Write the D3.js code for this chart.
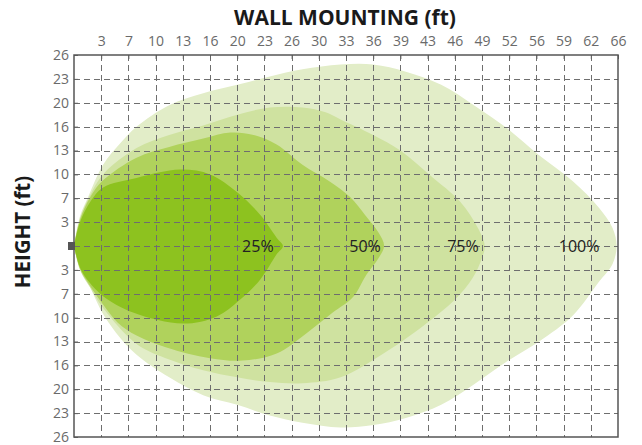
<!DOCTYPE html>
<html><head><meta charset="utf-8">
<script src="https://cdn.jsdelivr.net/npm/d3@7/dist/d3.min.js"></script>
<style>
html,body{margin:0;padding:0;background:#fff;}
svg{display:block;}
</style></head>
<body>
<svg id="chart" width="642" height="445"></svg>
<script>
// distances in metres (grid units); tick labels are the feet equivalents
const xTickValues = d3.range(1, 21);
const xTickLabels = ["3","7","10","13","16","20","23","26","30","33","36","39","43","46","49","52","56","59","62","66"];
const yTickValues = [-8,-7,-6,-5,-4,-3,-2,-1,1,2,3,4,5,6,7,8];
const yTickLabels = ["3","7","10","13","16","20","23","26"];

const seriesNames = ["100%","75%","50%","25%"];
const seriesLabelX = [18.57, 14.3, 10.7, 6.76];
const outline100 = [[0,0],[0.22,1.25],[0.5,2.0],[1.07,3.4],[1.7,4.3],[2.3,5.0],[3.5,5.9],[4.75,6.4],[6.0,6.75],[7.2,7.1],[8.4,7.4],[9.8,7.6],[11.0,7.6],[12.2,7.3],[13.5,6.75],[14.7,5.9],[15.9,4.95],[17.1,3.8],[18.35,2.7],[19.3,1.6],[19.8,0.75],[19.95,0],[19.8,-0.75],[19.3,-1.5],[18.35,-2.9],[17.1,-4.0],[15.9,-4.85],[14.7,-5.8],[13.5,-6.65],[12.2,-7.2],[11.0,-7.5],[9.8,-7.6],[8.4,-7.4],[7.2,-7.1],[6.0,-6.65],[4.75,-6.25],[3.5,-5.5],[2.3,-4.55],[1.7,-3.85],[1.07,-2.85],[0.5,-1.5],[0.22,-0.9],[0,0]];
const outline75 = [[0,0],[0.22,1.15],[0.6,2.15],[1.07,3.0],[2.3,4.1],[3.5,4.65],[4.75,5.05],[6.0,5.5],[7.2,5.8],[8.4,5.8],[9.25,5.6],[9.8,5.3],[11.0,4.65],[12.0,4.0],[13.1,2.95],[14.2,1.85],[14.85,0.75],[15.1,0],[15.0,-0.5],[14.65,-1.35],[14.0,-2.25],[13.0,-3.2],[11.45,-4.45],[9.8,-5.5],[8.4,-5.75],[7.2,-5.7],[6.0,-5.5],[4.75,-5.2],[3.5,-4.75],[2.3,-4.1],[1.07,-2.6],[0.6,-1.75],[0.22,-1.0],[0,0]];
const outline50 = [[0,0],[0.22,1.1],[0.6,2.05],[1.07,2.75],[2.3,3.7],[3.5,4.15],[4.75,4.5],[5.75,4.75],[6.6,4.65],[7.45,4.25],[8.4,3.4],[9.4,2.7],[10.15,2.05],[10.7,1.3],[11.2,0.55],[11.4,0],[11.2,-0.5],[10.75,-1.2],[10.25,-2.15],[9.5,-2.8],[8.55,-3.65],[7.45,-4.5],[6.2,-4.8],[5.0,-4.7],[3.4,-4.25],[2.3,-3.75],[1.6,-3.2],[1.07,-2.45],[0.55,-1.6],[0.22,-0.95],[0,0]];
const outline25 = [[0,0],[0.22,1.0],[0.6,1.85],[1.07,2.45],[2.3,2.85],[3.9,3.2],[5.0,3.0],[6.0,2.25],[6.85,1.3],[7.45,0.35],[7.68,0],[7.45,-0.35],[6.85,-1.4],[6.1,-2.25],[5.25,-2.95],[4.0,-3.25],[2.2,-2.8],[1.07,-2.1],[0.55,-1.5],[0.22,-0.9],[0,0]];
const outlines = [outline100, outline75, outline50, outline25];
const fills = ["#e2edc8", "#cfe2a0", "#b0d25c", "#8dc21f"];

const svg = d3.select("#chart");
const pLeft = 74, pRight = 618, pTop = 55, pBottom = 437;
const x = d3.scaleLinear().domain([0, 20]).range([pLeft, pRight]);
const y = d3.scaleLinear().domain([-8, 8]).range([pBottom, pTop]);

svg.append("defs").append("clipPath").attr("id","plotclip")
  .append("rect").attr("x",pLeft).attr("y",pTop).attr("width",pRight-pLeft).attr("height",pBottom-pTop);

const line = d3.line().x(d => x(d[0])).y(d => y(d[1])).curve(d3.curveCatmullRom.alpha(0.5));
const shapes = svg.append("g").attr("clip-path","url(#plotclip)");
outlines.forEach((o, i) => {
  shapes.append("path").attr("d", line(o) + "Z").attr("fill", fills[i]);
});

// grid
const grid = svg.append("g").attr("stroke","#6e6e6e").attr("stroke-width",1).attr("stroke-dasharray","6,4");
d3.range(1, 20).forEach(v => {
  grid.append("line").attr("x1", Math.round(x(v))+0.5).attr("x2", Math.round(x(v))+0.5).attr("y1", pTop).attr("y2", pBottom);
});
d3.range(-7, 8).forEach(v => {
  grid.append("line").attr("y1", Math.round(y(v))+0.5).attr("y2", Math.round(y(v))+0.5).attr("x1", pLeft).attr("x2", pRight);
});

// axes
const xAxis = d3.axisTop(x).tickValues(xTickValues).tickFormat(d => xTickLabels[d-1]).tickSizeInner(-4).tickSizeOuter(0).tickPadding(9);
const gx = svg.append("g").attr("transform", `translate(0,${pTop})`).call(xAxis);
const yAxis = d3.axisLeft(y).tickValues(yTickValues).tickFormat(d => yTickLabels[Math.abs(d)-1]).tickSizeInner(-4).tickSizeOuter(0).tickPadding(5);
const gy = svg.append("g").attr("transform", `translate(${pLeft},0)`).call(yAxis);
[gx, gy].forEach(g => {
  g.select(".domain").remove();
  g.selectAll(".tick line").attr("stroke","#666");
  g.selectAll(".tick text").attr("fill","#6a6a6a").style("font-family","'Open Sans', sans-serif").style("font-size","14px");
});

// frame
svg.append("rect").attr("x",pLeft).attr("y",pTop).attr("width",pRight-pLeft).attr("height",pBottom-pTop)
  .attr("fill","none").attr("stroke","#555").attr("stroke-width",1.5);

// origin marker
svg.append("rect").attr("x", x(0)-6).attr("y", y(0)-4).attr("width",7).attr("height",8).attr("fill","#555");

// series labels
seriesNames.forEach((n, i) => {
  svg.append("text").attr("x", x(seriesLabelX[i])).attr("y", y(0)).attr("dy","0.35em")
    .attr("text-anchor","middle").attr("fill","#222")
    .style("font-family","'Open Sans', sans-serif").style("font-size","16px").text(n);
});

// titles
svg.append("text").attr("x", 345).attr("y", 25).attr("text-anchor","middle").attr("fill","#1a1a1a")
  .style("font-family","'Open Sans', sans-serif").style("font-weight","bold").style("font-size","21px")
  .text("WALL MOUNTING (ft)");
svg.append("text").attr("transform", `translate(30,232) rotate(-90)`).attr("text-anchor","middle").attr("fill","#1a1a1a")
  .style("font-family","'Open Sans', sans-serif").style("font-weight","bold").style("font-size","20.5px")
  .text("HEIGHT (ft)");
</script>
</body></html>
